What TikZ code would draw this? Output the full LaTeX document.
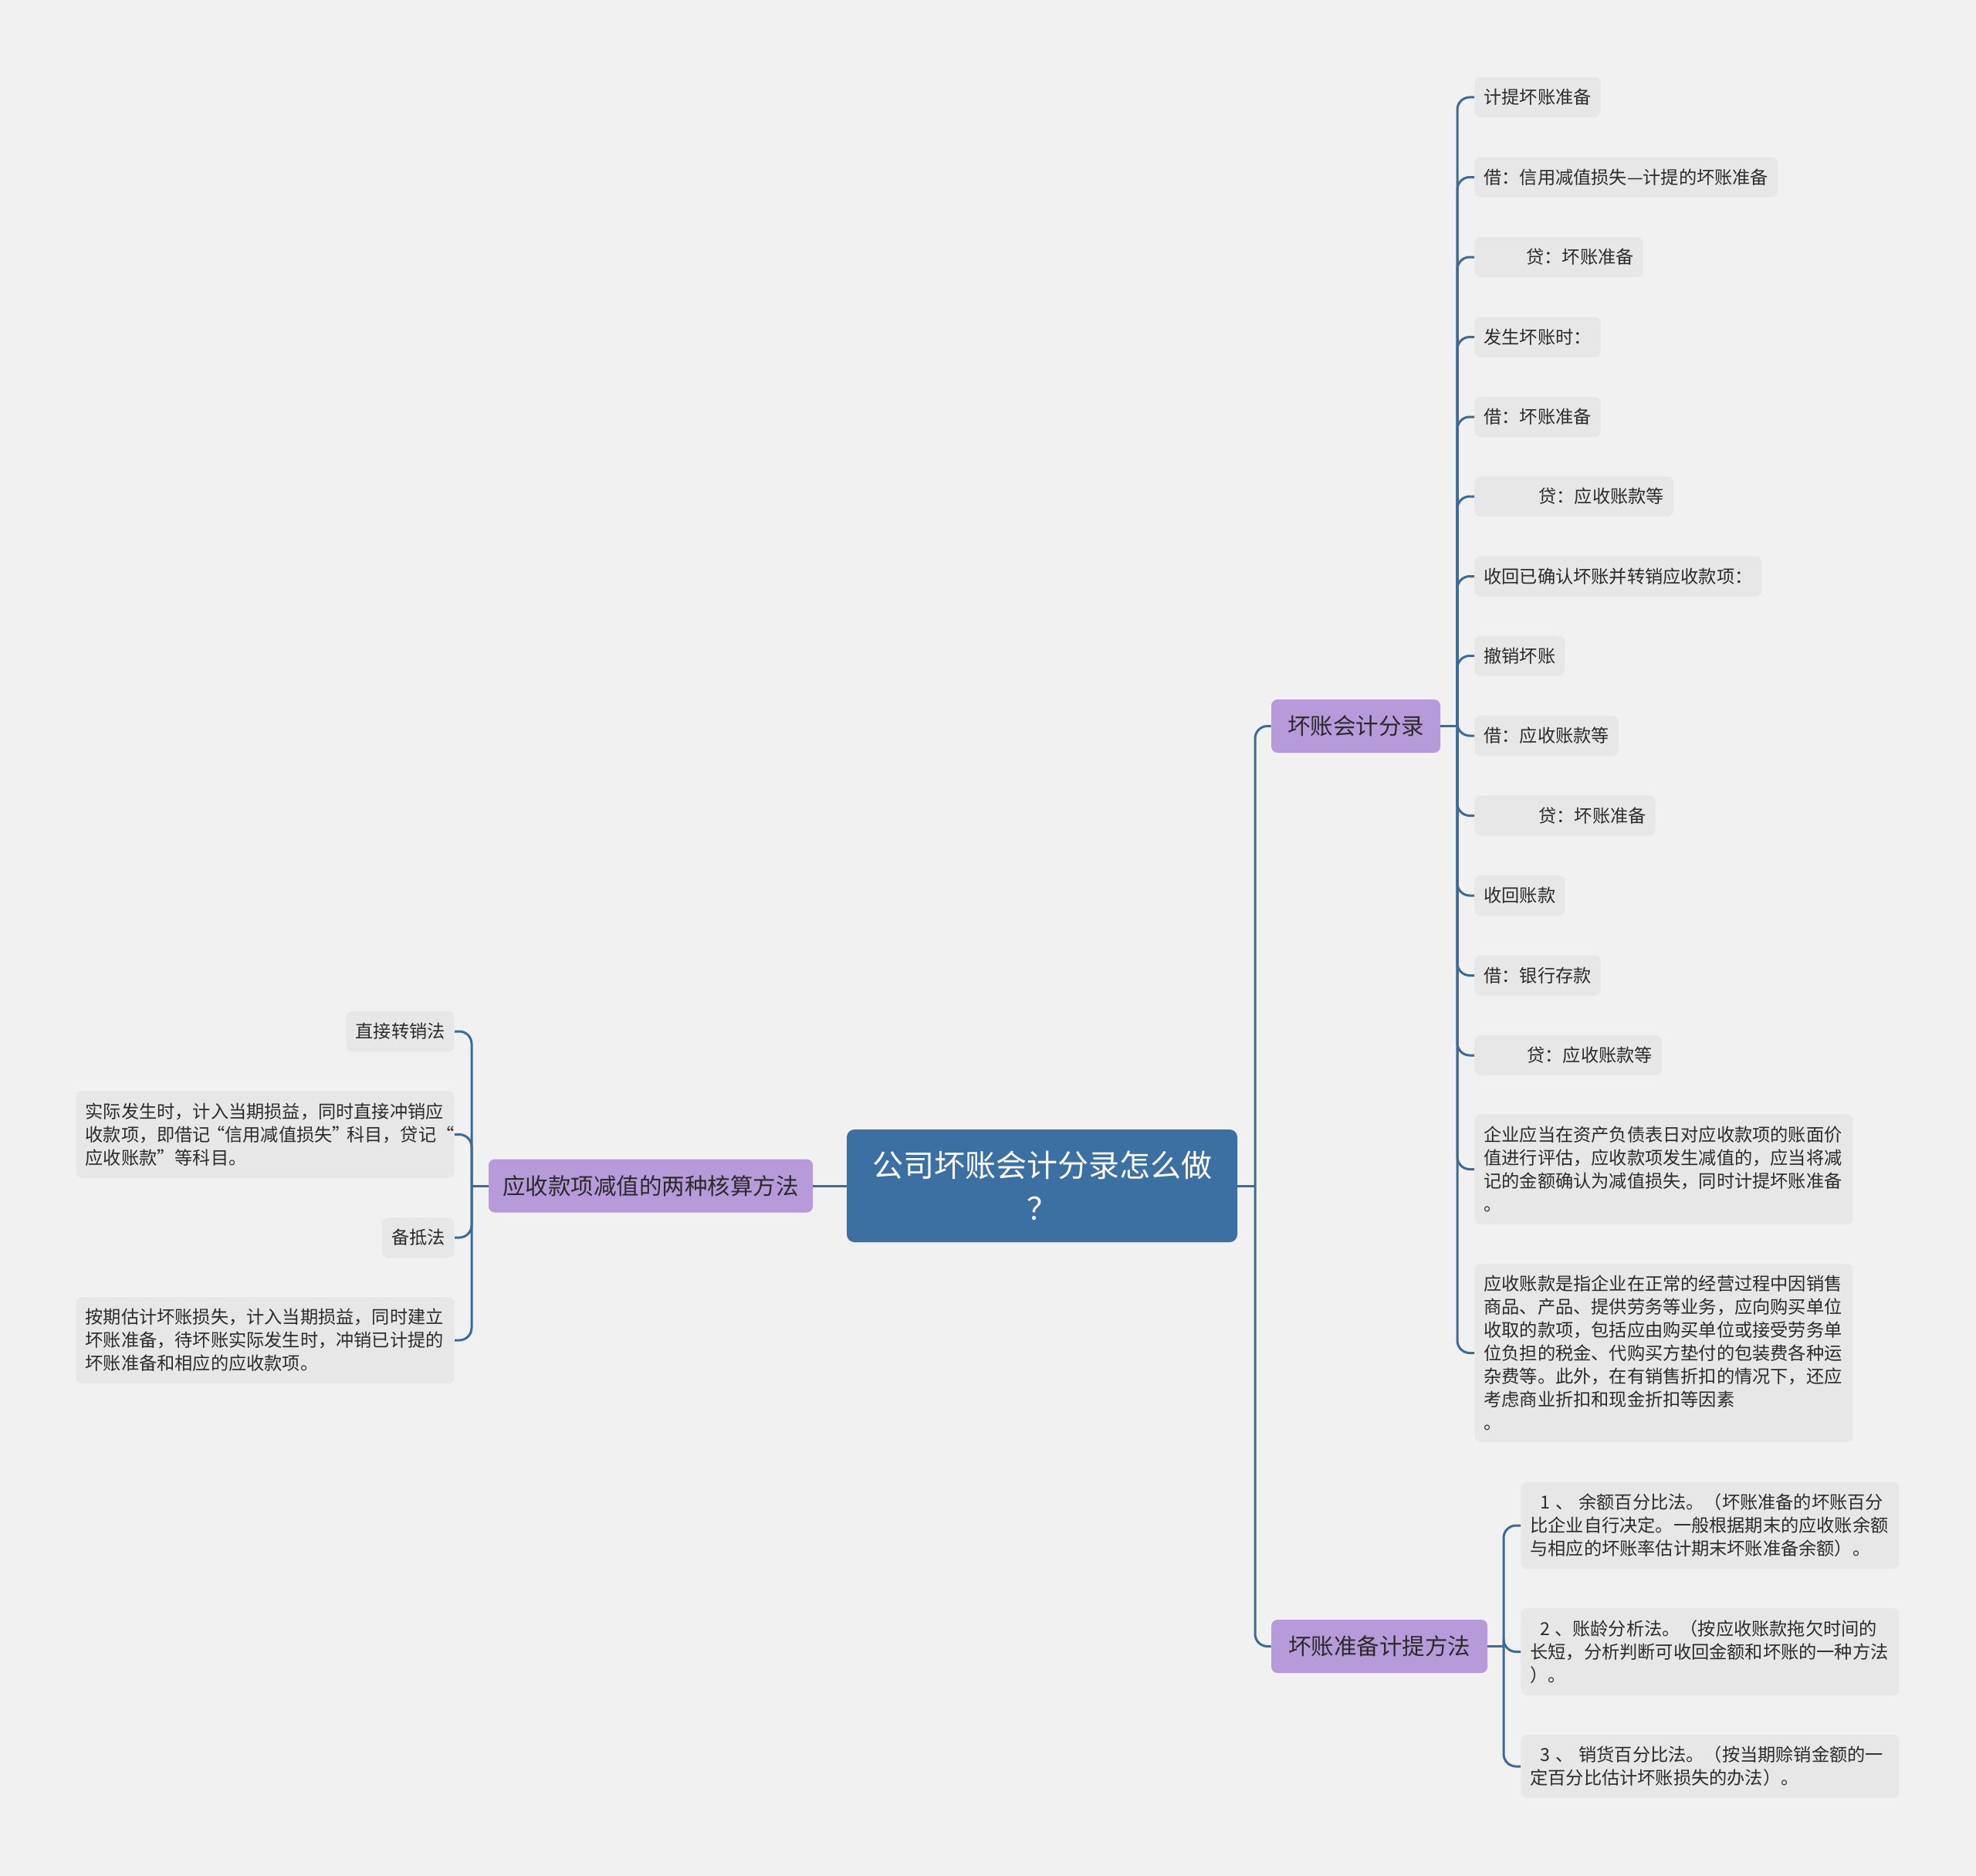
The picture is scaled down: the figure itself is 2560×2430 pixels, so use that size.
\documentclass[tikz,border=0pt]{standalone}
\usepackage{fontspec}
\setmainfont{Noto Sans CJK SC}
\definecolor{bg}{HTML}{F1F1F1}
\definecolor{leaf}{HTML}{E7E7E7}
\definecolor{linec}{HTML}{3A6B9B}
\definecolor{rootc}{HTML}{3C70A3}
\definecolor{purp}{HTML}{B79AD9}
\definecolor{txt}{HTML}{2B2B2B}
\newcommand{\lqfw}{\makebox[0.8em][r]{“}}
\newcommand{\rqfw}{\makebox[0.8em][l]{”}}
\begin{document}
\begin{tikzpicture}[x=0.5pt,y=-0.5pt,
  leafbox/.style={fill=leaf, rounded corners=4pt, inner xsep=6pt, inner ysep=0pt,
    minimum height=26pt, text=txt, font=\fontsize{11.6pt}{15pt}\selectfont},
  multibox/.style={leafbox, text width=233pt, align=left},
  topic/.style={fill=purp, rounded corners=4pt, minimum height=34.5pt, inner sep=0pt,
    text=txt, font=\fontsize{14.75pt}{18pt}\selectfont},
  conn/.style={draw=linec, line width=1.5pt, rounded corners=8pt},
]
\fill[bg] (0,0) rectangle (2560,2430);
\useasboundingbox (0,0) rectangle (2560,2430);

% root
\node[fill=rootc, rounded corners=5pt, minimum width=253pt, minimum height=73pt,
  text=white, font=\fontsize{20pt}{28pt}\selectfont, align=center, inner sep=0pt]
  (root) at (1350,1536) {公司坏账会计分录怎么做\\？};

% topics
\node[topic, minimum width=210pt] (lt) at (843,1536) {应收款项减值的两种核算方法};
\node[topic, minimum width=109.5pt] (r1) at (1756.5,940.5) {坏账会计分录};
\node[topic, minimum width=140pt] (r2) at (1787,2132.5) {坏账准备计提方法};

% right leaves
\node[leafbox, anchor=west] (n1) at (1910,126) {计提坏账准备};
\node[leafbox, anchor=west] (n2) at (1910,229.5) {借：信用减值损失—计提的坏账准备};
\node[leafbox, anchor=west] (n3) at (1910,333) {\hspace*{27.5pt}贷：坏账准备};
\node[leafbox, anchor=west] (n4) at (1910,436.5) {发生坏账时：};
\node[leafbox, anchor=west] (n5) at (1910,540) {借：坏账准备};
\node[leafbox, anchor=west] (n6) at (1910,643) {\hspace*{35.5pt}贷：应收账款等};
\node[leafbox, anchor=west] (n7) at (1910,746.5) {收回已确认坏账并转销应收款项：};
\node[leafbox, anchor=west] (n8) at (1910,849.5) {撤销坏账};
\node[leafbox, anchor=west] (n9) at (1910,953) {借：应收账款等};
\node[leafbox, anchor=west] (n10) at (1910,1056.5) {\hspace*{35.5pt}贷：坏账准备};
\node[leafbox, anchor=west] (n11) at (1910,1160) {收回账款};
\node[leafbox, anchor=west] (n12) at (1910,1263.5) {借：银行存款};
\node[leafbox, anchor=west] (n13) at (1910,1367) {\hspace*{28pt}贷：应收账款等};
\node[multibox, anchor=west, minimum height=71.5pt] (n14) at (1910,1514.5)
  {企业应当在资产负债表日对应收款项的账面价\\值进行评估，应收款项发生减值的，应当将减\\记的金额确认为减值损失，同时计提坏账准备\\。};
\node[multibox, anchor=west, minimum height=115.5pt] (n15) at (1910,1752.5)
  {应收账款是指企业在正常的经营过程中因销售\\商品、产品、提供劳务等业务，应向购买单位\\收取的款项，包括应由购买单位或接受劳务单\\位负担的税金、代购买方垫付的包装费各种运\\杂费等。此外，在有销售折扣的情况下，还应\\考虑商业折扣和现金折扣等因素\\。};

% left leaves
\node[leafbox, anchor=east] (la) at (589,1336) {直接转销法};
\node[multibox, anchor=east, minimum height=56.5pt] (lb) at (589,1469.5)
  {实际发生时，计入当期损益，同时直接冲销应\\收款项，即借记\lqfw 信用减值损失\rqfw 科目，贷记“\\应收账款”等科目。};
\node[leafbox, anchor=east] (lc) at (589,1603) {备抵法};
\node[multibox, anchor=east, minimum height=56pt] (ld) at (589,1736)
  {按期估计坏账损失，计入当期损益，同时建立\\坏账准备，待坏账实际发生时，冲销已计提的\\坏账准备和相应的应收款项。};

% bottom leaves
\node[multibox, anchor=west, minimum height=56pt] (b1) at (1970,1976)
  {\hspace*{6.5pt}1\hspace{3.5pt}、\hspace{3.5pt}余额百分比法。（坏账准备的坏账百分\\比企业自行决定。一般根据期末的应收账余额\\与相应的坏账率估计期末坏账准备余额）。};
\node[multibox, anchor=west, minimum height=56.5pt] (b2) at (1970,2139.5)
  {\hspace*{6.5pt}2\hspace{3pt}、账龄分析法。（按应收账款拖欠时间的\\长短，分析判断可收回金额和坏账的一种方法\\）。};
\node[multibox, anchor=west, minimum height=41pt] (b3) at (1970,2288)
  {\hspace*{6.5pt}3\hspace{3.5pt}、\hspace{3.5pt}销货百分比法。（按当期赊销金额的一\\定百分比估计坏账损失的办法）。};

% connectors
\coordinate (jc) at (1626,1536);
\draw[conn] (root.east) -- (jc);
\draw[conn] (jc) |- (r1.west);
\draw[conn] (jc) |- (r2.west);
\draw[conn] (root.west) -- (lt.east);

\coordinate (jl) at (611,1536);
\draw[conn] (lt.west) -- (jl);
\foreach \n in {la,lb,lc,ld} \draw[conn] (jl) |- (\n.east);

\coordinate (j1) at (1888,940.5);
\draw[conn] (r1.east) -- (j1);
\foreach \n in {n1,n2,n3,n4,n5,n6,n7,n8,n9,n10,n11,n12,n13,n14,n15}
  \draw[conn] (j1) |- (\n.west);

\coordinate (j2) at (1948,2132.5);
\draw[conn] (r2.east) -- (j2);
\foreach \n in {b1,b2,b3} \draw[conn] (j2) |- (\n.west);
\end{tikzpicture}
\end{document}
